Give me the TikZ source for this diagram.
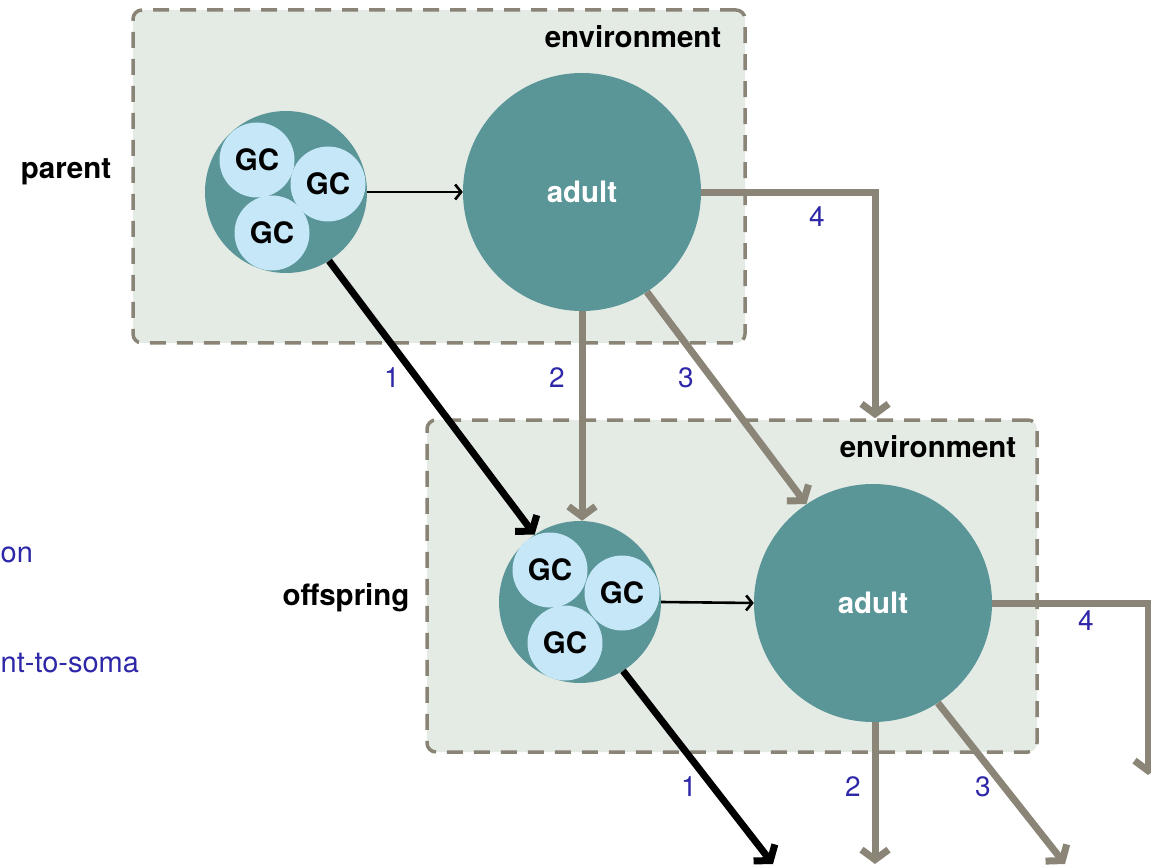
\documentclass[tikz,border=0pt]{standalone}
\usepackage{fontspec}
\setmainfont{TeX Gyre Heros}
\usetikzlibrary{arrows.meta}
\definecolor{envfill}{HTML}{E4EBE4}
\definecolor{envline}{HTML}{8A8477}
\definecolor{teal}{HTML}{5A9598}
\definecolor{cellblue}{HTML}{C6E7F7}
\definecolor{pathgray}{HTML}{8A8577}
\definecolor{numblue}{HTML}{2E28A8}
\tikzset{
  envbox/.style={draw=envline, fill=envfill, line width=3.5pt,
    dash pattern=on 16pt off 11pt, rounded corners=9pt, inner sep=0pt},
  germball/.style={circle, fill=teal, minimum size=162pt, inner sep=0pt},
  gcell/.style={circle, fill=cellblue, minimum size=75pt, inner sep=0pt,
    font=\fontsize{29.5}{34}\selectfont\bfseries},
  adultball/.style={circle, fill=teal, minimum size=238pt, inner sep=0pt,
    text=white, font=\fontsize{29.5}{34}\selectfont\bfseries},
  lbl/.style={font=\fontsize{29.5}{34}\selectfont\bfseries, inner sep=0pt},
  num/.style={text=numblue, font=\fontsize{28}{33}\selectfont, inner sep=0pt},
  legend/.style={text=numblue, font=\fontsize{29}{34}\selectfont, inner sep=0pt},
  thinarrow/.style={draw=black, line width=2.6pt,
    -{Straight Barb[length=6pt, width=15pt]}},
  germarrow/.style={draw=black, line width=7pt, line join=miter,
    -{Straight Barb[length=10pt, width=27pt]}},
  somaarrow/.style={draw=pathgray, line width=7pt, line join=miter,
    -{Straight Barb[length=10pt, width=27pt]}},
}
\begin{document}
\begin{tikzpicture}[x=1pt, y=-1pt]
\useasboundingbox (0,0) rectangle (1151,866);

% environments
\node[envbox, minimum width=612pt, minimum height=333pt] (env1) at (439,176.5) {};
\node[envbox, minimum width=610pt, minimum height=332pt] (env2) at (732,586) {};
\node[lbl] (envlbl1) at (633,37) {environment};
\node[lbl] (envlbl2) at (928,447) {environment};

% generation labels
\node[lbl] (parentlbl) at (66,172) {parent};
\node[lbl] (offlbl) at (346,598) {offspring};

% side legend text
\node[legend, anchor=base west] (leg1) at (0.5,562) {on};
\node[legend, anchor=base west] (leg2) at (0.5,672) {nt-to-soma};

% parent generation
\node[germball] (gc1) at (286,192) {};
\node[gcell] (gc1a) at (257,160) {GC};
\node[gcell] (gc1b) at (328,184) {GC};
\node[gcell] (gc1c) at (272,233) {GC};
\node[adultball] (ad1) at (582,192) {adult};

% offspring generation
\node[germball] (gc2) at (580,602) {};
\node[gcell] (gc2a) at (550,570) {GC};
\node[gcell] (gc2b) at (622,593) {GC};
\node[gcell] (gc2c) at (565,643) {GC};
\node[adultball] (ad2) at (873,603) {adult};

% entry point of path 4 on the offspring environment
\coordinate (drop4) at ([xshift=143pt]env2.north);

% loose ends leaving the picture
\coordinate (out1) at (773,864);
\coordinate (out2) at (875,864);
\coordinate (out3) at (1065,864);
\coordinate (out4) at (1148,775);

% development
\draw[thinarrow] (gc1.east) -- (ad1.west);
\draw[thinarrow] (gc2.east) -- (ad2.west);

% parent to offspring paths
\draw[germarrow] (gc1.-58) -- (gc2.124);
\draw[somaarrow] (ad1.south) -- (ad1.south |- gc2.north);
\draw[somaarrow] (ad1.-57) -- (ad2.124);
\draw[somaarrow] ([yshift=-1pt]ad1.east) -| (drop4);

% offspring to next generation
\draw[germarrow] (gc2.-58) -- (out1);
\draw[somaarrow] (ad2.south -| out2) -- (out2);
\draw[somaarrow] (ad2.-57) -- (out3);
\draw[somaarrow] (ad2.east) -| (out4);

% path numbers
\node[num] (n1a) at (392,378) {1};
\node[num] (n2a) at (557,378) {2};
\node[num] (n3a) at (686,378) {3};
\node[num] (n4a) at (817,217) {4};
\node[num] (n1b) at (689,787) {1};
\node[num] (n2b) at (853,787) {2};
\node[num] (n3b) at (983,787) {3};
\node[num] (n4b) at (1086,621) {4};
\end{tikzpicture}
\end{document}
